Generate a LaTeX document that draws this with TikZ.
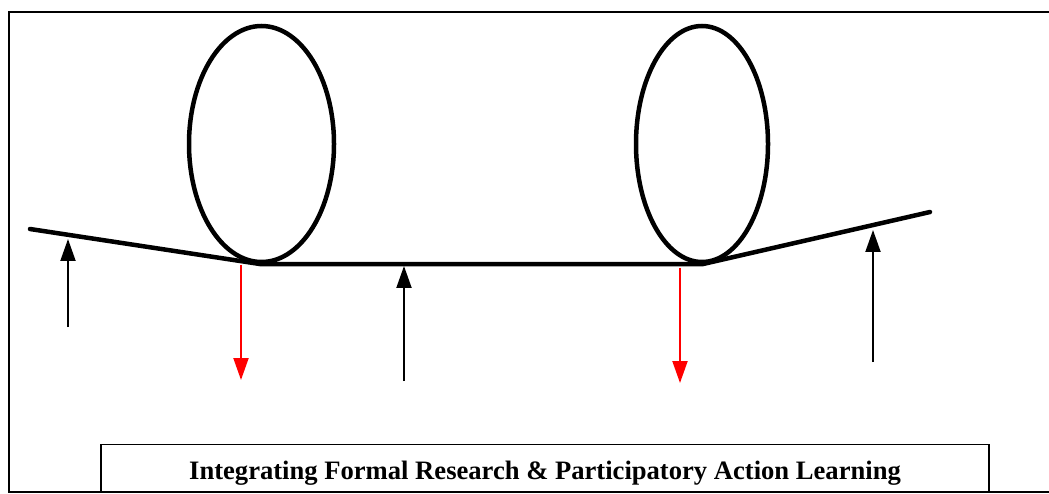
\documentclass[tikz,border=0pt]{standalone}
\usepackage{fontspec}
\setmainfont{Liberation Serif}
\usepackage{tikz}
\usetikzlibrary{arrows.meta,shapes.geometric}
\definecolor{Pull}{HTML}{FF0000}
\definecolor{Ink}{HTML}{000000}

\begin{document}
\begin{tikzpicture}[x=1pt,y=-1pt,
    cycle/.style={ellipse,draw=Ink,line width=4.5pt,inner sep=0pt,
      minimum height=236pt},
    beam/.style={draw=Ink,line width=4.5pt,line cap=round},
    lift/.style={draw=Ink,line width=2pt,
      -{Triangle[width=15pt,length=22pt]}},
    drop/.style={lift,draw=Pull,-{Triangle[width=15pt,length=22pt,fill=Pull]}},
    title/.style={draw=Ink,line width=1.5pt,minimum width=888pt,
      text height=23pt,text depth=0pt,inner ysep=12pt,
      font=\fontsize{26.6}{32}\selectfont\bfseries}
  ]
    \useasboundingbox (0,0) rectangle (1049,494);
    \draw[Ink,line width=1.5pt] (9,12) rectangle (1070,492);

    % the two loops sitting on the beam
    \node[cycle,minimum width=145pt] (research) at (261.5,144) {};
    \node[cycle,minimum width=132pt] (action) at (702,144) {};

    \coordinate (leftend) at (30,229);
    \coordinate (rightend) at (930,212);
    \draw[beam] (leftend) -- (research.south) -- (action.south) -- (rightend);

    % black supports pushing up
    \coordinate (base1) at (68,327);
    \coordinate (tip1) at (68,239);
    \coordinate (base2) at (404,381);
    \coordinate (tip2) at (404,266);
    \coordinate (base3) at (873,362);
    \coordinate (tip3) at (873,230);
    \draw[lift] (base1) -- (tip1);
    \draw[lift] (base2) -- (tip2);
    \draw[lift] (base3) -- (tip3);

    % red loads pulling down
    \coordinate (top4) at (241,265);
    \coordinate (tip4) at (241,380);
    \coordinate (top5) at (680,268);
    \coordinate (tip5) at (680,383);
    \draw[drop] (top4) -- (tip4);
    \draw[drop] (top5) -- (tip5);

    \node[title,anchor=south] (caption) at (545,492)
      {Integrating Formal Research \& Participatory Action Learning};
  \end{tikzpicture}
\end{document}
